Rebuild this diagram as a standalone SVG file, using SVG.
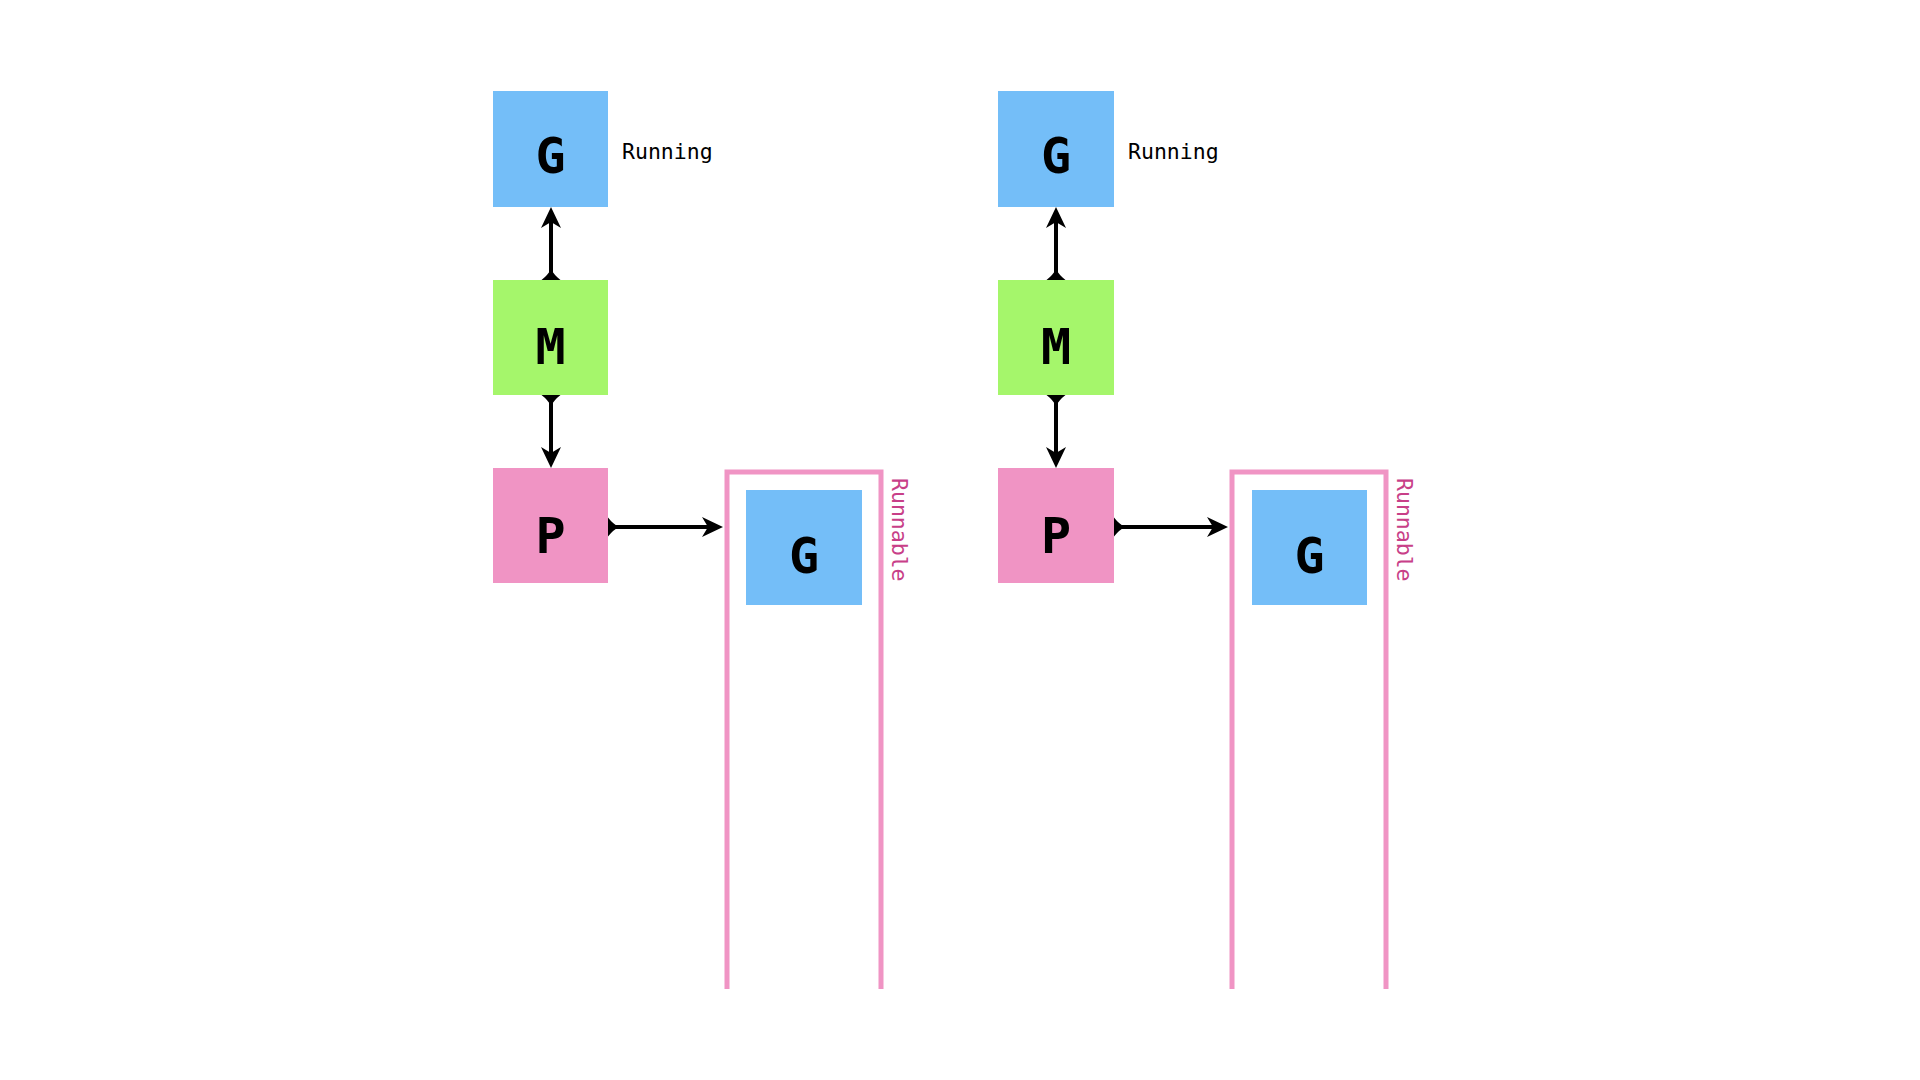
<svg xmlns="http://www.w3.org/2000/svg" xmlns:xlink="http://www.w3.org/1999/xlink" width="1920" height="1080" viewBox="0 0 1920 1080">
<style>
.g{fill:#74bef8}
.m{fill:#a5f66b}
.p{fill:#f094c4}
.big{font-family:"DejaVu Sans Mono","Liberation Mono",monospace;font-weight:bold;font-size:50px;fill:#000;text-anchor:middle}
.lbl{font-family:"DejaVu Sans Mono","Liberation Mono",monospace;font-size:21.5px;fill:#000}
.rq{font-family:"DejaVu Sans Mono","Liberation Mono",monospace;font-size:21.5px;fill:#c83f88}
.queue{fill:none;stroke:#f094c4;stroke-width:5}
.line{stroke:#000;stroke-width:4;fill:none}
</style>
<defs>
<path id="head" d="M0,0 L-21,-10 L-15,0 L-21,10 Z" fill="#000"/>
<path id="tail" d="M0,-9.5 Q5,-3 11,0 Q5,3 0,9.5 Z" fill="#000"/>
</defs>
<rect width="1920" height="1080" fill="#fff"/>

<g id="left">
<g id="queue-left"><path class="queue" d="M727,989 V472 H881 V989"/><text class="rq" transform="translate(892,478) rotate(90)">Runnable</text></g>
<g id="g-running-left"><rect class="g" x="493" y="91" width="115" height="116"/><text class="big" x="550.5" y="173">G</text></g>
<text class="lbl" x="622" y="159">Running</text>
<g id="m-left"><rect class="m" x="493" y="280" width="115" height="115"/><text class="big" x="550.5" y="364">M</text></g>
<g id="p-left"><rect class="p" x="493" y="468" width="115" height="115"/><text class="big" x="550.5" y="553">P</text></g>
<g id="g-runnable-left"><rect class="g" x="746" y="490" width="116" height="115"/><text class="big" x="804" y="573">G</text></g>
</g>

<g id="right">
<g id="queue-right"><path class="queue" d="M1232,989 V472 H1386 V989"/><text class="rq" transform="translate(1397,478) rotate(90)">Runnable</text></g>
<g id="g-running-right"><rect class="g" x="998" y="91" width="116" height="116"/><text class="big" x="1056" y="173">G</text></g>
<text class="lbl" x="1128" y="159">Running</text>
<g id="m-right"><rect class="m" x="998" y="280" width="116" height="115"/><text class="big" x="1056" y="364">M</text></g>
<g id="p-right"><rect class="p" x="998" y="468" width="116" height="115"/><text class="big" x="1056" y="553">P</text></g>
<g id="g-runnable-right"><rect class="g" x="1252" y="490" width="115" height="115"/><text class="big" x="1309.5" y="573">G</text></g>
</g>

<g id="connectors">
<line class="line" x1="551" y1="280" x2="551" y2="214"/>
<use xlink:href="#head" transform="translate(551,207) rotate(-90)"/>
<use xlink:href="#tail" transform="translate(551,280) rotate(-90)"/>
<line class="line" x1="551" y1="395" x2="551" y2="461"/>
<use xlink:href="#head" transform="translate(551,468) rotate(90)"/>
<use xlink:href="#tail" transform="translate(551,395) rotate(90)"/>
<line class="line" x1="608" y1="527" x2="716" y2="527"/>
<use xlink:href="#head" transform="translate(723,527)"/>
<use xlink:href="#tail" transform="translate(608,527)"/>

<line class="line" x1="1056" y1="280" x2="1056" y2="214"/>
<use xlink:href="#head" transform="translate(1056,207) rotate(-90)"/>
<use xlink:href="#tail" transform="translate(1056,280) rotate(-90)"/>
<line class="line" x1="1056" y1="395" x2="1056" y2="461"/>
<use xlink:href="#head" transform="translate(1056,468) rotate(90)"/>
<use xlink:href="#tail" transform="translate(1056,395) rotate(90)"/>
<line class="line" x1="1114" y1="527" x2="1221" y2="527"/>
<use xlink:href="#head" transform="translate(1228,527)"/>
<use xlink:href="#tail" transform="translate(1114,527)"/>
</g>
</svg>
